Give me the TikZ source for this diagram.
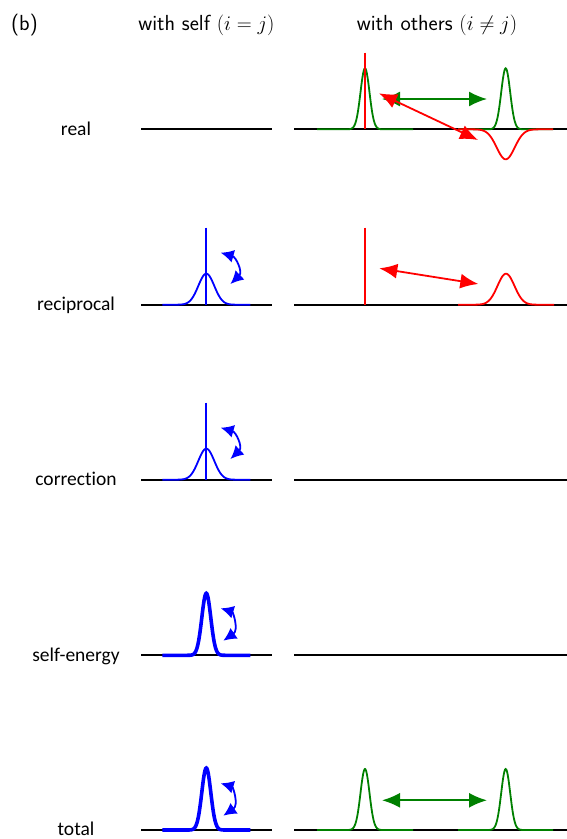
\documentclass[tikz,border=0pt]{standalone}
\usepackage{fontspec}
\newfontfamily\labfont[Ligatures=NoCommon]{Carlito}
\usetikzlibrary{arrows.meta}
\definecolor{dgreen}{RGB}{0,128,0}
\newcommand\mygauss[6]{\draw[#1] plot[domain=-#6:#6, samples=151, smooth] ({#2+\x},{#3-(#4)*exp(-(\x)*(\x)/(2*#5*#5))});}
\begin{document}
\begin{tikzpicture}[x=1pt,y=-1pt,
  axisline/.style={line width=1.8pt, black},
  thinline/.style={line width=1.8pt},
  fatline/.style={line width=3.6pt},
  bigdbl/.style={line width=1.8pt, {Latex[length=18pt,width=15pt]}-{Latex[length=18pt,width=15pt]}},
  smalldbl/.style={line width=1.8pt, {Latex[length=13pt,width=13pt]}-{Latex[length=13pt,width=13pt]}},
  lab/.style={font=\labfont\fontsize{19.5}{23}\selectfont, anchor=base},
  head/.style={font=\sffamily\fontsize{21.8}{26}\selectfont, anchor=base},
]
\useasboundingbox (0,0) rectangle (567,839);

% headers
\node[head] (hb) at (24.5,30) {(b)};
\node[head] (hs) at (206.4,30) {with self $(i=j)$};
\node[head] (ho) at (437,30) {with others $(i\neq j)$};

% row labels
\node[lab] (l1) at (76,135.3) {real};
\node[lab] (l2) at (76,310.7) {reciprocal};
\node[lab] (l3) at (76,485.7) {correction};
\node[lab] (l4) at (76,661.3) {self-energy};
\node[lab] (l5) at (76,835.5) {total};

% axes
\foreach \yy in {129.3,304.7,479.7,655.3,830}{
  \draw[axisline] (141,\yy) -- (272,\yy);
  \draw[axisline] (294,\yy) -- (567,\yy);
}

% ---- row 1: real (others)
\mygauss{thinline,dgreen}{365}{129.3}{61}{4.5}{48}
\mygauss{thinline,dgreen}{505.7}{129.3}{61}{4.5}{47.5}
\mygauss{thinline,red}{505.7}{129.3}{-30}{9}{47.5}
\coordinate (r1top) at (365,52.7);
\coordinate (r1bot) at (365,129.3);
\draw[thinline,red] (r1top) -- (r1bot);
\coordinate (g1a) at (382,99);
\coordinate (g1b) at (487,99);
\draw[bigdbl,dgreen] (g1a) -- (g1b);
\coordinate (ra1) at (379,93.3);
\coordinate (rb1) at (478,140);
\draw[bigdbl,red] (ra1) -- (rb1);

% ---- row 2: reciprocal
\coordinate (b2top) at (206.3,227.7);
\coordinate (b2bot) at (206.3,304.7);
\draw[thinline,blue] (b2top) -- (b2bot);
\mygauss{thinline,blue}{206.3}{304.7}{31}{8}{44}
\coordinate (ba2) at (220.7,252.7);
\coordinate (bb2) at (230.5,284);
\draw[smalldbl,blue] (ba2) .. controls (236,257) and (243,272) .. (bb2);
\coordinate (r2top) at (365,227.7);
\coordinate (r2bot) at (365,304.7);
\draw[thinline,red] (r2top) -- (r2bot);
\mygauss{thinline,red}{506}{304.7}{31}{8.5}{48}
\coordinate (ra2) at (379.3,268.3);
\coordinate (rb2) at (478.3,284);
\draw[bigdbl,red] (ra2) -- (rb2);

% ---- row 3: correction
\coordinate (b3top) at (206.3,402.7);
\coordinate (b3bot) at (206.3,479.7);
\draw[thinline,blue] (b3top) -- (b3bot);
\mygauss{thinline,blue}{206.3}{479.7}{31}{8}{44}
\coordinate (ba3) at (220.7,427.7);
\coordinate (bb3) at (230.5,459);
\draw[smalldbl,blue] (ba3) .. controls (236,432) and (243,447) .. (bb3);

% ---- row 4: self-energy
\mygauss{fatline,blue}{206.3}{655.3}{62}{4.5}{44}
\coordinate (ba4) at (220.7,608.3);
\coordinate (bb4) at (223.3,640.7);
\draw[smalldbl,blue] (ba4) .. controls (233,612) and (239,630) .. (bb4);

% ---- row 5: total
\mygauss{fatline,blue}{206.3}{830}{62}{4.5}{44}
\coordinate (ba5) at (220.7,783.3);
\coordinate (bb5) at (223.3,815.7);
\draw[smalldbl,blue] (ba5) .. controls (233,787) and (239,805) .. (bb5);
\mygauss{thinline,dgreen}{365}{830}{61}{4.5}{48}
\mygauss{thinline,dgreen}{505.7}{830}{61}{4.5}{47.5}
\coordinate (g5a) at (382,800.3);
\coordinate (g5b) at (487,800.3);
\draw[bigdbl,dgreen] (g5a) -- (g5b);
\end{tikzpicture}
\end{document}
